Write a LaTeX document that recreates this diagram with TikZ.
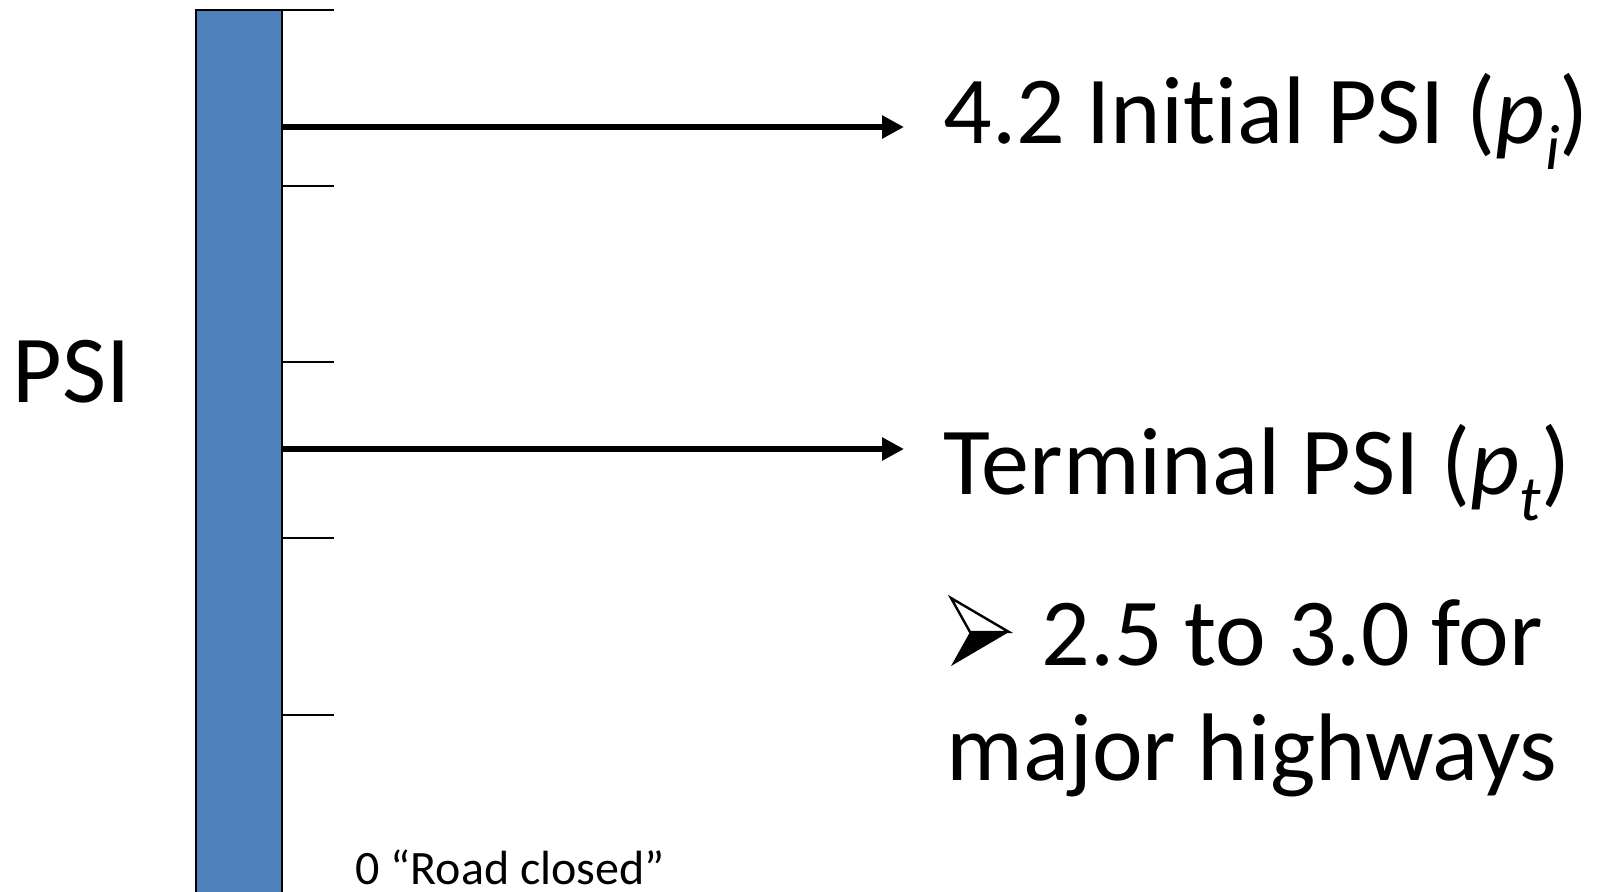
\documentclass[tikz,border=0pt]{standalone}
\usepackage{fontspec}
\setmainfont{Carlito}[Ligatures=NoCommon]
\usetikzlibrary{arrows.meta}
\definecolor{barblue}{HTML}{4F81BD}
\newcommand{\psub}[1]{\raisebox{-0.28em}{\fontsize{32pt}{32pt}\selectfont\itshape #1}}
\tikzset{
  bigtext/.style={anchor=base west,inner sep=0pt,font=\fontsize{48pt}{58pt}\selectfont},
  smalltext/.style={anchor=base west,inner sep=0pt,text depth=0pt,font=\fontsize{24pt}{28pt}\selectfont},
  tick/.style={line width=0.75pt,black},
  arr/.style={line width=3.2pt,-{Triangle[length=11pt,width=11pt]}}
}
\begin{document}
\begin{tikzpicture}[x=0.5pt,y=-0.5pt]
\useasboundingbox (0,0) rectangle (1598,891);
% bar
\draw[fill=barblue,line width=0.75pt] (196,10) rectangle (282,900);
% ticks
\foreach \yy in {10,186,362,538,715}
  \draw[tick] (282,\yy) -- (334,\yy);
% labels
\node[bigtext] (psi) at (12,402) {PSI};
\node[bigtext] (init) at (943,143) {4.2 Initial PSI (\textit{p}\psub{i})};
\node[bigtext] (term) at (943,494) {Terminal PSI (\textit{p}\psub{t})};
\node[bigtext] (range) at (1041,665) {2.5 to 3.0 for};
\node[bigtext] (major) at (946,780) {major highways};
\node[smalltext] (zero) at (355,884) {0 “Road closed”};
% arrows
\coordinate (a1s) at (282,127);
\coordinate (a1e) at (904,127);
\coordinate (a2s) at (282,449);
\coordinate (a2e) at (904,449);
\draw[arr] (a1s) -- (a1e);
\draw[arr] (a2s) -- (a2e);
% bullet arrowhead
\draw[line width=1.2pt,line join=miter] (951,598) -- (1009,632) -- (970,632) -- cycle;
\fill (970,632) -- (1009,632) -- (951,666) -- cycle;
\end{tikzpicture}
\end{document}
